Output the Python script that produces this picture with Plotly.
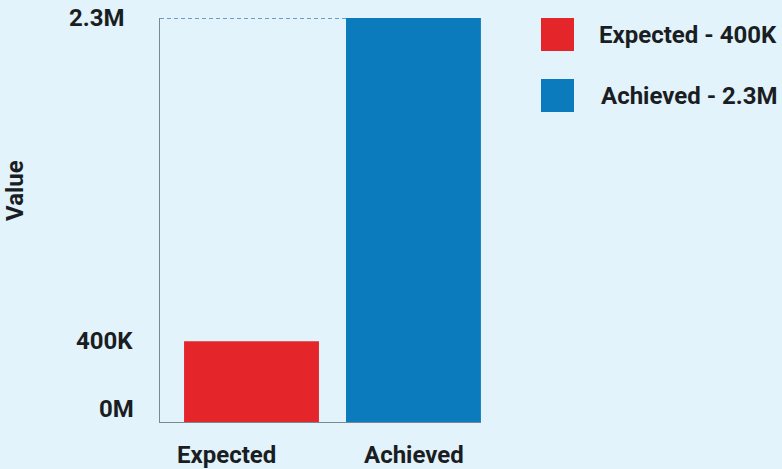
import plotly.graph_objects as go

categories = ["Expected", "Achieved"]
values = [400000, 2300000]
value_labels = ["400K", "2.3M"]
colors = ["#E4262A", "#0B7BBD"]
tick_values = [0, 400000, 2300000]
tick_labels = ["0M", "400K", "2.3M"]
axis_title = "Value"
axis_floor = -75000

BG = "#E2F3FB"
TXT = "#1A1E23"
FONT = "Roboto"
FS = 24

W, H = 782, 469
ML, MR, MT, MB = 160, 301, 18, 47
PW, PH = W - ML - MR, H - MT - MB

x_lo, x_hi = -0.565, 1.417
bar_w = 0.833
x_label_shift = [-25, 1]          # horizontal nudges of category labels (px)
y_label_right = [136, 135, 127]   # right edge of y tick label boxes (px)


def px_x(px):
    return (px - ML) / PW


def px_y(py):
    return 1 - (py - MT) / PH


fig = go.Figure()
fig.add_trace(go.Bar(
    x=categories,
    y=[v - axis_floor for v in values],
    base=axis_floor,
    marker=dict(color=colors, line=dict(width=0)),
    width=bar_w,
    showlegend=False,
    hoverinfo="skip",
))

# dashed reference line at max value up to the max bar
imax = values.index(max(values))
fig.add_shape(type="line", xref="x", yref="y",
              x0=x_lo, x1=imax - bar_w / 2, y0=max(values), y1=max(values),
              line=dict(color="#3D84BC", width=1.5, dash="4px,3px"))

# category labels
for cat, dx in zip(categories, x_label_shift):
    fig.add_annotation(xref="x", yref="paper", x=cat, y=px_y(455),
                       xshift=dx, xanchor="center", yanchor="middle",
                       showarrow=False, text=f"<b>{cat}</b>",
                       font=dict(family=FONT, size=FS, color=TXT))

# y tick labels
for tv, tl, xr in zip(tick_values, tick_labels, y_label_right):
    fig.add_annotation(xref="paper", yref="y", x=px_x(xr), y=tv,
                       xanchor="right", yanchor="middle", showarrow=False,
                       text=f"<b>{tl}</b>",
                       font=dict(family=FONT, size=FS, color=TXT))

# custom legend
for i, (cat, lab, col) in enumerate(zip(categories, value_labels, colors)):
    y_top = 18 + i * 61
    fig.add_shape(type="rect", xref="paper", yref="paper",
                  x0=px_x(541), x1=px_x(574),
                  y0=px_y(y_top + 33), y1=px_y(y_top),
                  fillcolor=col, line=dict(width=0))
    fig.add_annotation(xref="paper", yref="paper",
                       x=px_x(597 + i * 2), y=px_y(y_top + 17),
                       xanchor="left", yanchor="middle", showarrow=False,
                       text=f"<b>{cat} - {lab}</b>",
                       font=dict(family=FONT, size=FS, color=TXT))

# y axis title
fig.add_annotation(xref="paper", yref="paper", x=px_x(15), y=px_y(191),
                   xanchor="center", yanchor="middle", showarrow=False,
                   textangle=-90, text=f"<b>{axis_title}</b>",
                   font=dict(family=FONT, size=FS, color=TXT))

fig.update_layout(
    width=W, height=H,
    margin=dict(l=ML, r=MR, t=MT, b=MB, autoexpand=False),
    paper_bgcolor=BG, plot_bgcolor=BG,
    font=dict(family=FONT, size=FS, color=TXT),
    showlegend=False,
    xaxis=dict(range=[x_lo, x_hi], showgrid=False, zeroline=False,
               showline=True, linecolor="#7A8794", linewidth=1.2,
               ticks="", showticklabels=False, automargin=False,
               fixedrange=True),
    yaxis=dict(range=[axis_floor, max(values)], showgrid=False, zeroline=False,
               showline=True, linecolor="#7A8794", linewidth=1.2,
               ticks="", showticklabels=False, automargin=False,
               fixedrange=True),
)

fig.write_html("out.html", config={"displayModeBar": False})

with open("out.html", encoding="utf-8") as f:
    html = f.read()
html = html.replace("<head>", "<head><style>html,body{margin:0;padding:0;overflow:hidden;background:%s}</style>" % BG, 1)
with open("out.html", "w", encoding="utf-8") as f:
    f.write(html)
